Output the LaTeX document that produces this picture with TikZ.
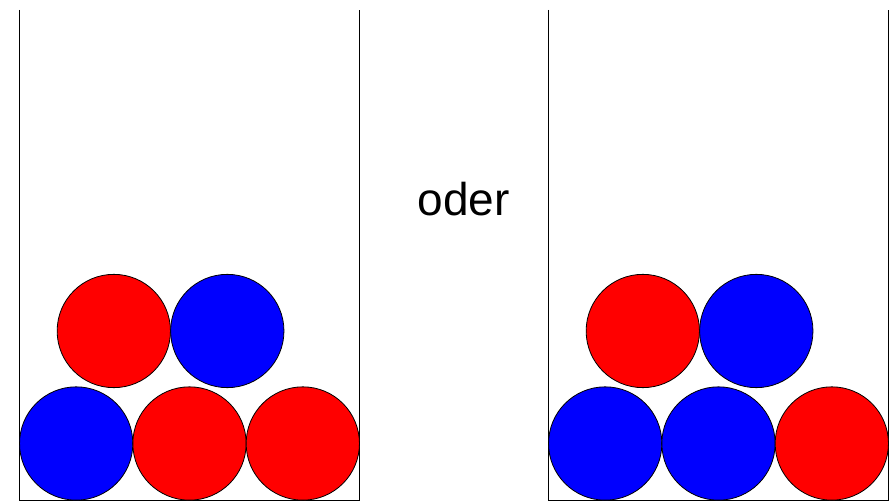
\documentclass[tikz,border=0pt]{standalone}
\usepackage{fontspec}
\setmainfont{Liberation Sans}
\begin{document}
\begin{tikzpicture}[x=1pt,y=-1pt,
  wall/.style={draw=black,line width=1pt},
  ball/.style={circle,draw=black,line width=0.8pt,minimum size=113.3pt,inner sep=0pt},
  redball/.style={ball,fill=red},
  blueball/.style={ball,fill=blue}]
\useasboundingbox (0,0) rectangle (893,502);
% left beaker
\draw[wall] (19.5,10) -- (19.5,500.5) -- (359.5,500.5) -- (359.5,10);
% right beaker
\draw[wall] (548.5,10) -- (548.5,500.5) -- (888.5,500.5) -- (888.5,10);
% left arrangement
\node[blueball] (l1) at (76.2,443.5) {};
\node[redball]  (l2) at (189.5,443.5) {};
\node[redball]  (l3) at (302.8,443.5) {};
\node[redball]  (l4) at (113.8,331) {};
\node[blueball] (l5) at (227.3,331) {};
% right arrangement
\node[blueball] (r1) at (605.2,443.5) {};
\node[blueball] (r2) at (718.5,443.5) {};
\node[redball]  (r3) at (831.8,443.5) {};
\node[redball]  (r4) at (642.8,331) {};
\node[blueball] (r5) at (756.3,331) {};
% label between the beakers
\node[anchor=base,font=\fontsize{46}{52}\selectfont,inner sep=0pt] (oder) at (463.5,215.5) {oder};
\end{tikzpicture}
\end{document}
